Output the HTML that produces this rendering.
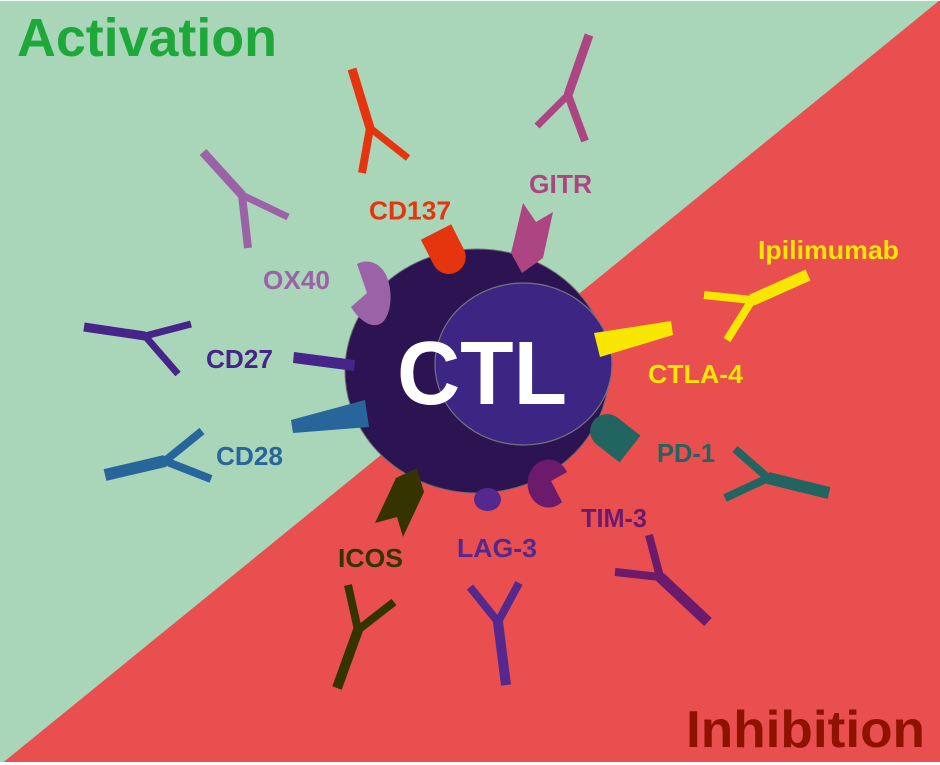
<!DOCTYPE html>
<html>
<head>
<meta charset="utf-8">
<style>
  html,body{margin:0;padding:0;background:#fff;}
  svg{display:block;}
  text{font-family:"Liberation Sans",Arial,sans-serif;font-weight:bold;}
</style>
</head>
<body>
<svg width="940" height="765" viewBox="0 0 940 765" xmlns="http://www.w3.org/2000/svg">
  <!-- background -->
  <rect x="0" y="0" width="940" height="765" fill="#a9d6b9"/>
  <polygon points="940,0 940,765 0,765" fill="#e94f4f"/>
  <rect x="0" y="762" width="940" height="3" fill="#ffffff"/>
  <rect x="0" y="0" width="940" height="1" fill="#f4f8f5"/>

  <!-- titles -->
  <text x="17" y="56" font-size="54" fill="#1ea83a" textLength="260" lengthAdjust="spacingAndGlyphs">Activation</text>
  <text x="686" y="747" font-size="52" fill="#8e1200" textLength="239" lengthAdjust="spacingAndGlyphs">Inhibition</text>

  <!-- cell -->
  <ellipse cx="477" cy="371" rx="132" ry="122" fill="#2c1452" stroke="#6e6a74" stroke-width="1"/>
  <ellipse cx="523.5" cy="364" rx="88.5" ry="81" fill="#3d2683" stroke="#77737f" stroke-width="1.2"/>

  <!-- receptors -->
  <!-- CD137 -->
  <path d="M-17,0 L17,0 L17,28 A17,17 0 0 1 -17,28 Z" fill="#e4350f" transform="translate(436,232) rotate(-27)"/>
  <!-- GITR -->
  <polygon points="523,203 536,222 553,212 543,258 522,273 511,253" fill="#ae4583"/>
  <!-- OX40 -->
  <path d="M357,264 C368,258 380,263 386,275 C393,290 392,312 383,322 C374,330 360,322 351,307 L367,293 Z" fill="#9c62a8"/>
  <!-- CD27 -->
  <polygon points="294,352 355,360 354,371 293,363" fill="#472489"/>
  <!-- CD28 -->
  <polygon points="291,420 365,400 369,427 293,433" fill="#27659b"/>
  <!-- CTLA-4 -->
  <polygon points="594,333 671,321 673,335 600,357" fill="#f7e600"/>
  <!-- PD-1 -->
  <path d="M-17,0 L17,0 L17,29 A17,17 0 0 1 -17,29 Z" fill="#22645f" transform="translate(630,449) rotate(128)"/>
  <!-- TIM-3 -->
  <path d="M567,472 L551,481 L562,502 A21,24 0 1 1 567,472 Z" fill="#6b1a6c"/>
  <!-- LAG-3 -->
  <ellipse cx="487.5" cy="499.5" rx="13.5" ry="11.5" fill="#55288d"/>
  <!-- ICOS -->
  <polygon points="396,478 417,468 424,492 403,537 397,517 375,523" fill="#353300"/>

  <!-- antibodies -->
  <g stroke-linecap="butt">
    <!-- CD137 -->
    <g stroke="#e4350f" fill="#e4350f">
      <line x1="370" y1="128" x2="352" y2="69" stroke-width="9"/>
      <line x1="370" y1="128" x2="362" y2="173" stroke-width="8"/>
      <line x1="370" y1="128" x2="408" y2="158" stroke-width="7"/>
      <circle cx="370" cy="128" r="4" stroke="none"/>
    </g>
    <!-- GITR -->
    <g stroke="#ae4583" fill="#ae4583">
      <line x1="568" y1="95" x2="589" y2="35" stroke-width="9"/>
      <line x1="568" y1="95" x2="585" y2="141" stroke-width="8"/>
      <line x1="568" y1="95" x2="537" y2="126" stroke-width="7"/>
      <circle cx="568" cy="95" r="4" stroke="none"/>
    </g>
    <!-- OX40 -->
    <g stroke="#9c62a8" fill="#9c62a8">
      <line x1="242" y1="195" x2="203" y2="152" stroke-width="9"/>
      <line x1="242" y1="195" x2="248" y2="248" stroke-width="8"/>
      <line x1="242" y1="195" x2="288" y2="217" stroke-width="7"/>
      <circle cx="242" cy="195" r="4" stroke="none"/>
    </g>
    <!-- CD27 -->
    <g stroke="#472489" fill="#472489">
      <line x1="145" y1="336" x2="84" y2="327" stroke-width="9"/>
      <line x1="145" y1="336" x2="191" y2="324" stroke-width="7"/>
      <line x1="145" y1="336" x2="178" y2="374" stroke-width="7"/>
      <circle cx="145" cy="336" r="4" stroke="none"/>
    </g>
    <!-- CD28 -->
    <g stroke="#27659b" fill="#27659b">
      <line x1="165" y1="461" x2="105" y2="475" stroke-width="12"/>
      <line x1="165" y1="461" x2="202" y2="431" stroke-width="8"/>
      <line x1="165" y1="461" x2="211" y2="479" stroke-width="8"/>
      <circle cx="165" cy="461" r="5" stroke="none"/>
    </g>
    <!-- CTLA-4 / Ipilimumab -->
    <g stroke="#f7e600" fill="#f7e600">
      <line x1="752" y1="300" x2="808" y2="275" stroke-width="12"/>
      <line x1="752" y1="300" x2="704" y2="295" stroke-width="8"/>
      <line x1="752" y1="300" x2="727" y2="340" stroke-width="8"/>
      <circle cx="752" cy="300" r="5" stroke="none"/>
    </g>
    <!-- PD-1 -->
    <g stroke="#22645f" fill="#22645f">
      <line x1="768" y1="478" x2="829" y2="493" stroke-width="12"/>
      <line x1="768" y1="478" x2="735" y2="449" stroke-width="8"/>
      <line x1="768" y1="478" x2="725" y2="498" stroke-width="8"/>
      <circle cx="768" cy="478" r="5" stroke="none"/>
    </g>
    <!-- TIM-3 -->
    <g stroke="#6b1a6c" fill="#6b1a6c">
      <line x1="660" y1="577" x2="708" y2="622" stroke-width="11"/>
      <line x1="660" y1="577" x2="649" y2="535" stroke-width="8"/>
      <line x1="660" y1="577" x2="615" y2="572" stroke-width="8"/>
      <circle cx="660" cy="577" r="5" stroke="none"/>
    </g>
    <!-- LAG-3 -->
    <g stroke="#55288d" fill="#55288d">
      <line x1="498" y1="622" x2="506" y2="685" stroke-width="10"/>
      <line x1="498" y1="622" x2="470" y2="587" stroke-width="8"/>
      <line x1="498" y1="622" x2="519" y2="583" stroke-width="8"/>
      <circle cx="498" cy="622" r="5" stroke="none"/>
    </g>
    <!-- ICOS -->
    <g stroke="#353300" fill="#353300">
      <line x1="358" y1="630" x2="337" y2="688" stroke-width="10"/>
      <line x1="358" y1="630" x2="348" y2="585" stroke-width="8"/>
      <line x1="358" y1="630" x2="394" y2="602" stroke-width="8"/>
      <circle cx="358" cy="630" r="5" stroke="none"/>
    </g>
  </g>

  <!-- labels -->
  <text x="369" y="219.5" font-size="26" fill="#e4350f" textLength="82" lengthAdjust="spacingAndGlyphs">CD137</text>
  <text x="529" y="193" font-size="26" fill="#ae4583" textLength="63" lengthAdjust="spacingAndGlyphs">GITR</text>
  <text x="263" y="289" font-size="26" fill="#9c62a8" textLength="67" lengthAdjust="spacingAndGlyphs">OX40</text>
  <text x="206" y="368" font-size="26" fill="#472489" textLength="67" lengthAdjust="spacingAndGlyphs">CD27</text>
  <text x="216" y="465" font-size="26" fill="#27659b" textLength="67" lengthAdjust="spacingAndGlyphs">CD28</text>
  <text x="758" y="259" font-size="26" fill="#f7e600" textLength="141" lengthAdjust="spacingAndGlyphs">Ipilimumab</text>
  <text x="648" y="383" font-size="26" fill="#f7e600" textLength="95" lengthAdjust="spacingAndGlyphs">CTLA-4</text>
  <text x="657" y="462" font-size="26" fill="#22645f" textLength="58" lengthAdjust="spacingAndGlyphs">PD-1</text>
  <text x="581" y="527" font-size="26" fill="#6b1a6c" textLength="66" lengthAdjust="spacingAndGlyphs">TIM-3</text>
  <text x="457" y="557" font-size="26" fill="#55288d" textLength="80" lengthAdjust="spacingAndGlyphs">LAG-3</text>
  <text x="338" y="567" font-size="26" fill="#353300" textLength="65" lengthAdjust="spacingAndGlyphs">ICOS</text>

  <!-- CTL -->
  <text x="397" y="404" font-size="90" fill="#ffffff" textLength="170" lengthAdjust="spacingAndGlyphs">CTL</text>
</svg>
</body>
</html>
